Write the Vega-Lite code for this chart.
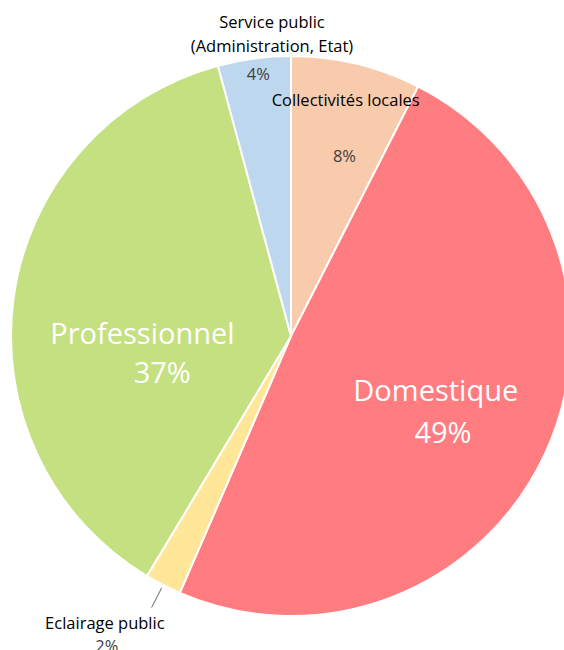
{
  "$schema": "https://vega.github.io/schema/vega-lite/v6.json",
  "width": 582,
  "height": 672,
  "padding": 0,
  "autosize": {"type": "none"},
  "background": "white",
  "config": {"view": {"stroke": null}, "text": {"font": "Open Sans"}},
  "data": {
    "values": [
      {"i": 1, "c": "Collectivités locales", "v": 7.5, "n": "Collectivités locales", "p": "8%"},
      {"i": 2, "c": "Domestique", "v": 49.0, "n": "Domestique", "p": "49%"},
      {"i": 3, "c": "Eclairage public", "v": 2.1, "n": "Eclairage public", "p": "2%"},
      {"i": 4, "c": "Professionnel", "v": 37.2, "n": "Professionnel", "p": "37%"},
      {"i": 5, "c": "Service public", "v": 4.2, "n": "Service public\n(Administration, Etat)", "p": "4%"}
    ]
  },
  "encoding": {
    "theta": {"field": "v", "type": "quantitative", "stack": true},
    "order": {"field": "i", "type": "quantitative"}
  },
  "layer": [
    {
      "mark": {"type": "arc", "outerRadius": 280, "stroke": "white", "strokeWidth": 2},
      "encoding": {
        "color": {
          "field": "c", "type": "nominal", "legend": null,
          "scale": {
            "domain": ["Collectivités locales", "Domestique", "Eclairage public", "Professionnel", "Service public"],
            "range": ["#F8CBAD", "#FF7C80", "#FFE699", "#C5E080", "#BDD7EE"]
          }
        }
      }
    },
    {
      "mark": {"type": "arc", "innerRadius": 283, "outerRadius": 305, "padAngle": 0.5, "fill": null, "stroke": "#8C8C8C", "strokeWidth": 1},
      "encoding": {
        "strokeOpacity": {"condition": {"test": "datum.c === 'Eclairage public'", "value": 1}, "value": 0}
      }
    },
    {
      "mark": {"type": "text", "radius": 304, "dx": 21, "dy": -12, "fontSize": 16.5, "lineBreak": "\n", "lineHeight": 24, "color": "#000000"},
      "encoding": {"text": {"condition": {"test": "datum.c === 'Service public'", "field": "n"}, "value": ""}}
    },
    {
      "mark": {"type": "text", "radius": 264, "dx": 2, "dy": 1, "fontSize": 16.5, "color": "#404040"},
      "encoding": {"text": {"condition": {"test": "datum.c === 'Service public'", "field": "p"}, "value": ""}}
    },
    {
      "mark": {"type": "text", "radius": 243, "dx": -2, "dy": 1, "fontSize": 16.5, "color": "#000000"},
      "encoding": {"text": {"condition": {"test": "datum.c === 'Collectivités locales'", "field": "n"}, "value": ""}}
    },
    {
      "mark": {"type": "text", "radius": 186, "dx": 10, "dy": 2, "fontSize": 16.5, "color": "#404040"},
      "encoding": {"text": {"condition": {"test": "datum.c === 'Collectivités locales'", "field": "p"}, "value": ""}}
    },
    {
      "mark": {"type": "text", "radius": 150, "dy": 20, "fontSize": 29, "color": "white"},
      "encoding": {"text": {"condition": {"test": "datum.c === 'Professionnel'", "field": "n"}, "value": ""}}
    },
    {
      "mark": {"type": "text", "radius": 130, "dy": 56, "fontSize": 29, "color": "white"},
      "encoding": {"text": {"condition": {"test": "datum.c === 'Professionnel'", "field": "p"}, "value": ""}}
    },
    {
      "mark": {"type": "text", "radius": 160, "dy": -12, "fontSize": 29, "color": "white"},
      "encoding": {"text": {"condition": {"test": "datum.c === 'Domestique'", "field": "n"}, "value": ""}}
    },
    {
      "mark": {"type": "text", "radius": 168, "dy": 26, "fontSize": 29, "color": "white"},
      "encoding": {"text": {"condition": {"test": "datum.c === 'Domestique'", "field": "p"}, "value": ""}}
    },
    {
      "mark": {"type": "text", "radius": 320, "dx": -40, "dy": 3, "fontSize": 16.5, "color": "#000000"},
      "encoding": {"text": {"condition": {"test": "datum.c === 'Eclairage public'", "field": "n"}, "value": ""}}
    },
    {
      "mark": {"type": "text", "radius": 320, "dx": -38, "dy": 26, "fontSize": 16.5, "color": "#404040"},
      "encoding": {"text": {"condition": {"test": "datum.c === 'Eclairage public'", "field": "p"}, "value": ""}}
    }
  ]
}
